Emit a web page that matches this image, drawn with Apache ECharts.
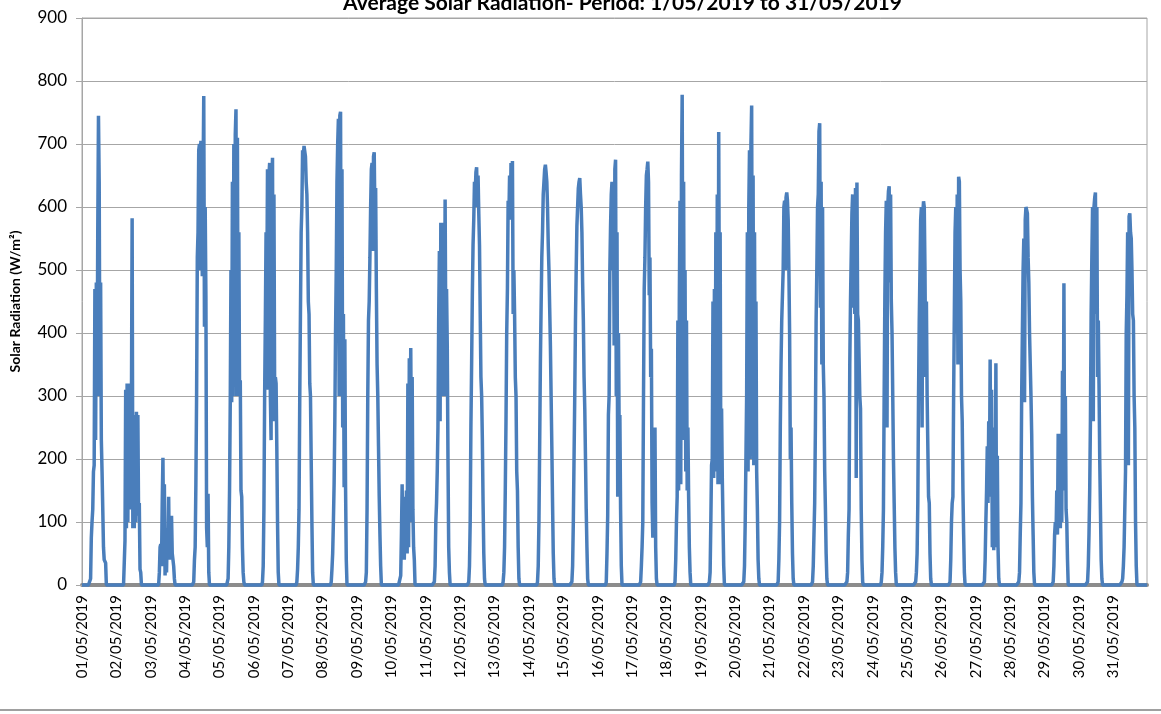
<!DOCTYPE html>
<html>
<head>
<meta charset="utf-8">
<title>Average Solar Radiation</title>
<script src="https://cdn.jsdelivr.net/npm/echarts@6/dist/echarts.min.js"></script>
<style>
  html, body { margin: 0; padding: 0; background: #fff; }
  #chart { width: 1161px; height: 714px; }
</style>
</head>
<body>
<div id="chart"></div>
<script>
// dates shown on the category axis
const DATES = ['01/05/2019','02/05/2019','03/05/2019','04/05/2019','05/05/2019','06/05/2019','07/05/2019',
  '08/05/2019','09/05/2019','10/05/2019','11/05/2019','12/05/2019','13/05/2019','14/05/2019','15/05/2019',
  '16/05/2019','17/05/2019','18/05/2019','19/05/2019','20/05/2019','21/05/2019','22/05/2019','23/05/2019',
  '24/05/2019','25/05/2019','26/05/2019','27/05/2019','28/05/2019','29/05/2019','30/05/2019','31/05/2019'];

// half-hourly readings (W/m2): night before 06:00, daytime 06:00-18:00, night after 18:00
const NIGHT_AM = [0,0,0,0,0,0,0,0,0,0,0,0];
const NIGHT_PM = [0,0,0,0,0,0,0,0,0,0,0];

const D01 = [10,75,100,120,180,190,470,230,480,300,560,745,640,300,480,230,180,120,60,40,40,35,0,0,0];
const D02 = [70,310,90,320,100,300,120,320,150,280,582,90,270,90,200,100,275,120,270,110,130,25,20,0,0];
const D03 = [20,60,65,30,130,202,60,160,15,90,20,80,50,140,40,100,60,110,50,40,30,10,0,0,0];
const D04 = [5,40,60,160,300,520,560,690,700,500,705,600,490,640,776,410,600,460,90,60,145,20,0,0,0];
const D05 = [10,60,150,290,500,290,640,300,700,420,715,755,300,710,330,560,300,325,150,140,60,20,5,0,0];
const D06 = [5,30,120,300,420,560,450,660,310,650,670,300,230,640,678,260,620,300,330,320,220,100,20,0,0];
const D07 = [5,25,60,120,290,430,560,600,690,680,697,695,680,640,620,560,450,430,320,300,200,100,20,0,0];
const D08 = [5,25,50,100,160,260,400,500,640,700,740,300,745,751,330,660,250,430,155,390,155,40,0,0,0];
const D09 = [5,20,120,300,420,450,520,600,660,670,530,680,687,580,630,470,350,300,220,140,80,30,0,0,0];
const D10 = [0,15,80,160,40,140,40,130,60,150,50,320,60,360,100,376,200,330,120,60,40,0,0,0,0];
const D11 = [5,30,100,130,180,250,420,530,260,575,300,575,440,570,300,612,380,470,380,200,60,20,0,0,0];
const D12 = [5,30,100,250,350,460,540,580,640,620,655,663,600,650,590,540,430,330,300,230,130,50,10,0,0];
const D13 = [5,20,60,150,260,400,470,610,580,650,580,670,620,673,430,500,430,330,300,180,150,60,10,0,0];
const D14 = [5,30,100,220,350,440,520,560,620,640,660,667,655,640,600,540,500,440,380,300,220,130,50,10,0];
const D15 = [5,30,100,200,300,420,500,570,600,630,640,646,620,600,560,480,420,330,280,200,120,60,10,0,0];
const D16 = [5,50,110,270,300,500,570,620,640,500,610,380,660,675,300,560,140,400,250,270,120,30,0,0,0];
const D17 = [5,30,60,100,300,470,520,600,650,660,672,640,460,520,330,375,130,75,250,100,250,60,10,0,0];
const D18 = [5,40,100,140,420,150,450,610,160,650,778,380,640,230,500,180,420,150,250,140,60,20,0,0,0];
const D19 = [5,20,100,190,200,450,170,470,200,560,180,620,160,719,400,560,160,280,170,100,30,0,0,0,0];
const D20 = [5,30,100,200,300,560,180,600,690,200,700,761,300,650,190,560,250,450,180,120,40,10,0,0,0];
const D21 = [5,40,100,250,350,420,460,500,600,610,500,615,623,610,580,500,400,200,250,130,50,10,0,0,0];
const D22 = [5,30,80,130,250,420,500,600,620,720,733,440,640,350,600,350,300,180,120,50,10,0,0,0,0];
const D23 = [5,20,80,120,350,450,520,590,620,440,610,430,630,170,639,430,420,360,300,280,120,40,5,0,0];
const D24 = [5,20,60,120,300,460,560,610,250,600,625,633,480,620,450,400,300,200,130,60,20,0,0,0,0];
const D25 = [5,20,50,130,300,420,500,580,600,250,590,609,600,500,330,450,300,300,140,130,50,10,0,0,0];
const D26 = [5,40,100,130,140,300,430,560,600,400,620,350,648,640,500,450,300,260,150,80,20,0,0,0,0];
const D27 = [5,40,100,150,220,130,260,170,358,140,310,60,250,55,200,60,352,60,205,60,10,0,0,0,0];
const D28 = [5,20,80,130,300,400,500,550,290,580,600,603,590,520,480,400,350,300,240,140,80,20,0,0,0];
const D29 = [5,30,80,100,80,150,80,240,100,240,90,200,100,340,150,479,160,300,120,100,40,0,0,0,0];
const D30 = [5,30,80,150,260,430,520,600,260,600,615,623,430,600,330,420,320,200,120,40,10,0,0,0,0];
const D31 = [5,10,30,60,120,180,400,460,560,190,585,590,560,550,500,430,420,300,250,100,30,0,0,0,0];

const DAYS = [D01,D02,D03,D04,D05,D06,D07,D08,D09,D10,D11,D12,D13,D14,D15,D16,
  D17,D18,D19,D20,D21,D22,D23,D24,D25,D26,D27,D28,D29,D30,D31];

// join the days into one series, one category per half hour
const categories = [];
const values = [];
DAYS.forEach(function (day, i) {
  const dayValues = NIGHT_AM.concat(day, NIGHT_PM);
  dayValues.forEach(function (v, k) {
    const hh = String(Math.floor(k / 2)).padStart(2, '0');
    const mm = k % 2 ? '30' : '00';
    categories.push(DATES[i] + ' ' + hh + ':' + mm);
    values.push(v);
  });
});

const myChart = echarts.init(document.getElementById('chart'));
const option = {
  animation: false,
  title: {
    text: 'Average Solar Radiation- Period: 1/05/2019 to 31/05/2019',
    left: 338,
    top: -12,
    textStyle: { fontFamily: 'Lato', fontSize: 21, fontWeight: 'bold', color: '#000' }
  },
  grid: {
    left: 78, right: 14, top: 18, bottom: 129,
    show: true, borderColor: '#a6a6a6', borderWidth: 1
  },
  xAxis: {
    type: 'category',
    boundaryGap: false,
    data: categories,
    offset: 3,
    axisLine: { lineStyle: { color: '#8c8c8c', width: 4 } },
    axisTick: { show: false },
    splitLine: { show: false },
    axisLabel: {
      interval: 47,
      rotate: 90,
      margin: 7,
      fontFamily: 'Lato',
      fontSize: 15,
      color: '#000',
      formatter: function (v) { return v.slice(0, 10); }
    }
  },
  yAxis: {
    type: 'value',
    min: 0,
    max: 900,
    interval: 100,
    name: 'Solar Radiation (W/m\u00b2)',
    nameLocation: 'middle',
    nameGap: 60,
    nameTextStyle: { fontFamily: 'Lato', fontSize: 14, fontWeight: 'bold', color: '#000' },
    axisLine: { show: true, lineStyle: { color: '#a6a6a6', width: 1 } },
    axisTick: { show: true, length: 6, lineStyle: { color: '#a6a6a6' } },
    axisLabel: { fontFamily: 'Lato', fontSize: 17, color: '#000', margin: 15 },
    splitLine: { lineStyle: { color: '#a6a6a6', width: 1 } }
  },
  series: [
    {
      type: 'line',
      data: values,
      showSymbol: false,
      clip: false,
      z: 3,
      lineStyle: { color: '#4a7ebb', width: 3.5 }
    }
  ],
  graphic: [
    {
      type: 'line',
      shape: { x1: 0, y1: 710, x2: 1161, y2: 710 },
      style: { stroke: '#a0a0a0', lineWidth: 2 }
    }
  ]
};
myChart.setOption(option);
</script>
</body>
</html>
